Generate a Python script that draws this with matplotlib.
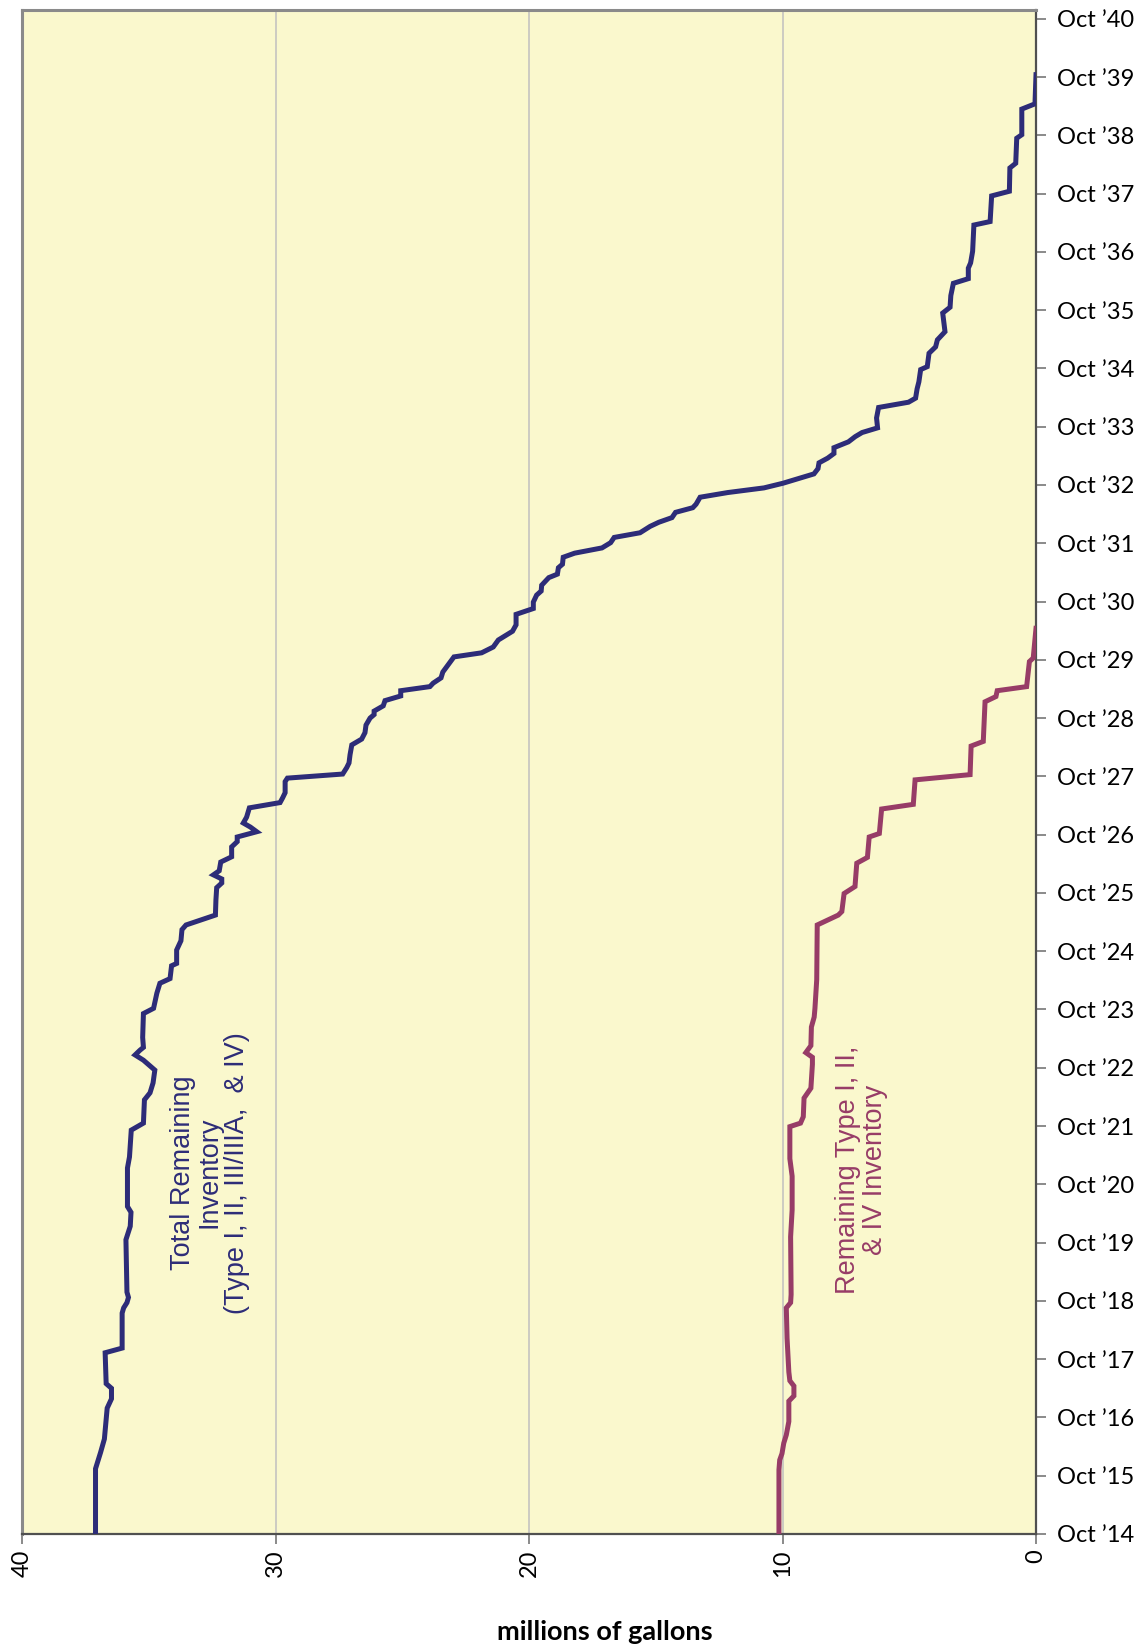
import matplotlib
matplotlib.use("Agg")
import matplotlib.pyplot as plt
from matplotlib.ticker import FixedLocator

# years are fiscal years, 14 = Oct '14 ... 40 = Oct '40
total_year = [14.00, 15.12, 15.40, 15.63, 16.16, 16.32, 16.50, 16.58, 17.11, 17.19,
              17.79, 17.88, 17.97, 18.06, 18.15, 19.05, 19.28, 19.52, 19.62, 20.28,
              20.47, 20.93, 21.05, 21.45, 21.57, 21.74, 21.96, 22.08, 22.13, 22.22,
              22.30, 22.35, 22.52, 22.93, 23.02, 23.28, 23.45, 23.53, 23.75, 23.79,
              24.02, 24.18, 24.37, 24.45, 24.62, 24.88, 25.09, 25.17, 25.24, 25.31,
              25.38, 25.53, 25.62, 25.79, 25.88, 25.96, 26.05, 26.13, 26.20, 26.30,
              26.46, 26.55, 26.63, 26.72, 26.91, 26.97, 27.04, 27.15, 27.23, 27.37,
              27.54, 27.64, 27.75, 27.88, 28.00, 28.06, 28.12, 28.21, 28.30, 28.38,
              28.47, 28.54, 28.60, 28.69, 28.79, 29.05, 29.12, 29.22, 29.34, 29.49,
              29.60, 29.78, 29.88, 29.99, 30.11, 30.18, 30.28, 30.41, 30.47, 30.58,
              30.64, 30.76, 30.83, 30.92, 31.01, 31.10, 31.18, 31.29, 31.36, 31.44,
              31.53, 31.61, 31.67, 31.79, 31.87, 31.95, 32.03, 32.19, 32.28, 32.38,
              32.46, 32.54, 32.64, 32.74, 32.83, 32.90, 32.98, 33.15, 33.33, 33.42,
              33.49, 33.65, 33.77, 33.98, 34.03, 34.26, 34.37, 34.49, 34.63, 34.95,
              35.05, 35.25, 35.46, 35.54, 35.72, 35.81, 36.01, 36.46, 36.52, 36.96,
              37.04, 37.44, 37.52, 37.95, 38.01, 38.45, 38.54, 39.04]
total_gal = [37.10, 37.10, 36.90, 36.75, 36.64, 36.47, 36.47, 36.68, 36.72, 36.05,
             36.05, 35.99, 35.86, 35.80, 35.86, 35.90, 35.73, 35.70, 35.84, 35.84,
             35.76, 35.69, 35.21, 35.17, 34.95, 34.83, 34.76, 35.08, 35.21, 35.54,
             35.35, 35.21, 35.24, 35.21, 34.81, 34.68, 34.56, 34.16, 34.10, 33.90,
             33.90, 33.73, 33.69, 33.53, 32.37, 32.35, 32.32, 32.12, 32.12, 32.45,
             32.22, 32.16, 31.73, 31.73, 31.51, 31.51, 30.74, 30.99, 31.27, 31.14,
             31.03, 29.82, 29.72, 29.62, 29.62, 29.53, 27.35, 27.19, 27.10, 27.06,
             26.99, 26.60, 26.47, 26.43, 26.27, 26.11, 26.11, 25.75, 25.68, 25.06,
             25.06, 23.91, 23.78, 23.47, 23.40, 22.96, 21.87, 21.41, 21.21, 20.65,
             20.51, 20.51, 19.83, 19.83, 19.70, 19.52, 19.50, 19.22, 18.88, 18.84,
             18.68, 18.65, 18.20, 17.12, 16.78, 16.64, 15.62, 15.22, 14.88, 14.36,
             14.22, 13.54, 13.41, 13.25, 12.16, 10.73, 9.98, 8.76, 8.60, 8.56,
             8.22, 7.97, 7.97, 7.40, 7.13, 6.86, 6.25, 6.29, 6.21, 5.03,
             4.75, 4.69, 4.62, 4.55, 4.29, 4.22, 3.96, 3.89, 3.59, 3.68,
             3.39, 3.36, 3.26, 2.67, 2.67, 2.58, 2.50, 2.45, 1.81, 1.75,
             1.05, 1.03, 0.80, 0.76, 0.56, 0.56, 0.04, 0.00]

type_year = [14.00, 15.10, 15.27, 15.38, 15.56, 15.70, 15.93, 16.28, 16.37, 16.54,
             16.63, 16.78, 17.36, 17.88, 17.97, 18.11, 19.10, 19.56, 20.14, 20.44,
             20.99, 21.05, 21.16, 21.48, 21.65, 22.06, 22.18, 22.26, 22.38, 22.70,
             22.87, 23.02, 23.51, 24.45, 24.62, 24.68, 24.99, 25.11, 25.51, 25.61,
             25.96, 26.02, 26.44, 26.52, 26.94, 27.03, 27.52, 27.60, 28.28, 28.37,
             28.47, 28.54, 28.97, 29.03, 29.54]
type_gal = [10.14, 10.14, 10.11, 10.02, 9.95, 9.85, 9.75, 9.75, 9.55, 9.55,
            9.71, 9.75, 9.82, 9.85, 9.68, 9.66, 9.68, 9.62, 9.62, 9.71,
            9.71, 9.29, 9.18, 9.15, 8.88, 8.82, 8.82, 9.08, 8.88, 8.86,
            8.75, 8.72, 8.65, 8.63, 7.80, 7.66, 7.57, 7.14, 7.07, 6.65,
            6.58, 6.18, 6.09, 4.84, 4.77, 2.60, 2.56, 2.08, 2.01, 1.58,
            1.53, 0.37, 0.26, 0.11, 0.00]

year_ticks = list(range(14, 41))
year_labels = ["Oct \u2019%02d" % y for y in year_ticks]
gal_ticks = [40, 30, 20, 10, 0]

navy = "#2d2c78"
plum = "#973c67"

fig = plt.figure(figsize=(11.45, 16.48), dpi=100)
ax = fig.add_axes([22 / 1145, 1 - 1534 / 1648, (1036 - 22) / 1145, (1534 - 10) / 1648])
ax.set_facecolor("#faf8cd")

ax.plot(total_gal, total_year, color=navy, lw=3.6, solid_joinstyle="miter", zorder=3)
ax.plot(type_gal, type_year, color=plum, lw=3.6, solid_joinstyle="miter", zorder=3)

ax.set_xlim(40, 0)
ax.set_ylim(14, 40.15)

ax.xaxis.set_major_locator(FixedLocator(gal_ticks))
ax.set_xticklabels([str(g) for g in gal_ticks], rotation=90, fontsize=17,
                   family="Lato")
for g in [30, 20, 10]:
    ax.axvline(g, color="#c4c4c0", lw=1.2, zorder=1)

ax.yaxis.tick_right()
ax.set_yticks(year_ticks)
ax.set_yticklabels(year_labels, fontsize=17, family="Lato")
ax.tick_params(axis="both", direction="out", length=7, width=1.2, color="#777777")
ax.tick_params(axis="x", pad=4)
ax.tick_params(axis="y", pad=8)

for s in ["left", "top"]:
    ax.spines[s].set_color("#8a8a8a")
    ax.spines[s].set_linewidth(2.2)
for s in ["right", "bottom"]:
    ax.spines[s].set_color("#505050")
    ax.spines[s].set_linewidth(1.6)

ax.set_xlabel("millions of gallons", fontsize=19.5, fontweight="bold", family="Lato")
ax.xaxis.set_label_coords(0.575, -0.064)
ax.xaxis.label.set_va("center")

ax.text(32.6, 20.2, "Total Remaining\nInventory\n(Type I, II, III/IIIA,  & IV)",
        rotation=90, ha="center", va="center", multialignment="center",
        fontsize=19.5, family="Liberation Sans", color=navy, linespacing=1.05)
ax.text(6.9, 20.25, "Remaining Type I, II,\n& IV Inventory",
        rotation=90, ha="center", va="center", multialignment="center",
        fontsize=19.5, family="Liberation Sans", color=plum, linespacing=1.05)

fig.savefig("out.png", dpi=100)
